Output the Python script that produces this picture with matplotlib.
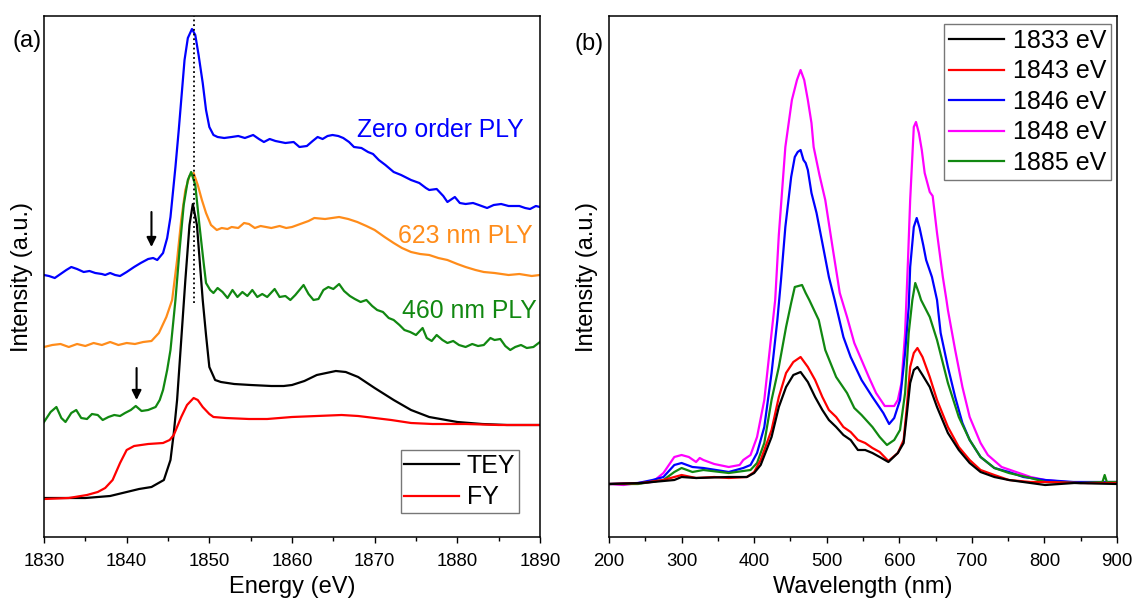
import matplotlib
matplotlib.use("Agg")
import matplotlib.pyplot as plt
from matplotlib.ticker import MultipleLocator

plt.rcParams['font.family'] = ['Liberation Sans', 'DejaVu Sans']

# ---------------- Panel (a): XANES-type spectra ----------------
tey_E = [1830, 1835, 1838, 1840, 1841.5, 1843, 1844.5, 1845.3, 1845.7, 1846.1, 1846.6, 1847.1, 1847.6, 1848.0,
         1848.5, 1849.2, 1849.6, 1850, 1850.7, 1851.4, 1853, 1855, 1857.5, 1859, 1860, 1861.5, 1863, 1865.3,
         1866.5, 1868, 1870, 1872.3, 1874.4, 1876.6, 1880, 1883, 1886, 1890]
tey_I = [39, 39, 41, 45, 48, 50, 57, 77, 104, 137, 197, 257, 312, 333,
         312, 237, 202, 170, 157, 155, 153, 152, 151, 151, 152, 156, 162, 166,
         165, 160, 149, 137, 127, 120, 115, 113, 112, 112]

fy_E = [1830, 1833, 1835.2, 1836.5, 1837.4, 1838.3, 1839.2, 1840, 1840.9, 1842.6, 1844.4, 1845.2, 1845.7,
        1846.6, 1847.3, 1848.1, 1848.6, 1849.2, 1850, 1850.5, 1852, 1854.8, 1857, 1860, 1863, 1866, 1868,
        1870, 1872, 1874.4, 1877, 1881, 1885, 1890]
fy_I = [38, 39, 42, 45, 49, 57, 74, 87, 91, 93, 94, 97, 102,
        120, 132, 139, 137, 130, 123, 120, 119, 118, 118, 120, 121, 122, 121,
        119, 117, 114, 113, 113, 112, 112]

ply460_E = [1830, 1830.8, 1831.5, 1832.1, 1832.6, 1833.3, 1833.9, 1834.5, 1835.2, 1835.8, 1836.5, 1837.1,
            1837.8, 1838.5, 1839.2, 1839.8, 1840.5, 1841.1, 1841.8, 1842.6, 1843.5, 1844.0, 1844.4, 1844.9,
            1845.3, 1845.9, 1846.4, 1846.9, 1847.4, 1847.8, 1848.3, 1848.8, 1849.3, 1849.6, 1850.1, 1850.5,
            1851, 1851.6, 1852.2, 1852.8, 1853.4, 1854, 1854.6, 1855.2, 1855.8, 1856.4, 1857, 1857.9, 1858.5,
            1859.2, 1859.8, 1860.4, 1861.4, 1862, 1862.6, 1863.2, 1863.8, 1864.4, 1865, 1865.7, 1866.3, 1867,
            1867.6, 1868.3, 1869, 1869.7, 1870.3, 1871, 1871.7, 1872.3, 1873, 1873.6, 1874.3, 1875, 1875.8,
            1876.3, 1876.9, 1877.5, 1878.2, 1878.8, 1879.5, 1880.2, 1881, 1881.8, 1882.5, 1883.2, 1884, 1884.5,
            1885.2, 1885.8, 1886.4, 1887, 1887.7, 1888.4, 1889.2, 1890]
ply460_I = [115, 125, 130, 119, 115, 124, 127, 119, 118, 123, 122, 117,
            120, 122, 121, 124, 127, 131, 126, 127, 130, 137, 147, 167,
            187, 237, 287, 332, 357, 365, 352, 312, 275, 254, 247, 244,
            249, 245, 239, 247, 240, 245, 241, 247, 240, 243, 240, 248, 240,
            241, 237, 242, 252, 243, 237, 238, 247, 250, 248, 253, 246, 241,
            238, 235, 237, 231, 227, 225, 219, 217, 212, 207, 205, 202, 209,
            199, 196, 202, 197, 194, 196, 192, 190, 193, 191, 192, 199, 197,
            198, 191, 187, 190, 192, 189, 190, 195]

ply623_E = [1830, 1831, 1832, 1833, 1834, 1835, 1836, 1837, 1838, 1839, 1840, 1841, 1842, 1843, 1843.9,
            1844.8, 1845.5, 1846.1, 1846.6, 1847.1, 1847.6, 1848.1, 1848.6, 1849.1, 1849.6, 1850.2, 1850.9,
            1851.5, 1852.2, 1852.7, 1853.5, 1854.2, 1854.8, 1855.5, 1856.2, 1857.5, 1858.5, 1859.3, 1860,
            1861, 1862, 1862.7, 1864, 1865.7, 1866.8, 1867.9, 1869, 1870, 1871.2, 1872.3, 1873.3, 1874.4,
            1875.5, 1876.6, 1877.7, 1878.8, 1880, 1881, 1882.2, 1883.2, 1884.5, 1886.2, 1887.5, 1889, 1890]
ply623_I = [190, 192, 193, 190, 193, 191, 194, 192, 195, 192, 194, 193, 195, 196, 204,
            220, 237, 277, 317, 347, 361, 364, 352, 337, 324, 312, 307,
            309, 308, 310, 309, 314, 313, 309, 311, 309, 311, 309, 310,
            313, 316, 319, 318, 320, 318, 315, 311, 307, 300, 294, 289, 285,
            283, 282, 279, 277, 273, 270, 267, 265, 264, 262, 263, 261, 262]

zero_E = [1830, 1830.6, 1831.3, 1832, 1832.7, 1833.3, 1834, 1834.8, 1835.5, 1836.2, 1837, 1837.4, 1838,
          1838.6, 1839.2, 1840, 1840.9, 1841.7, 1842.6, 1843.2, 1843.7, 1844.4, 1844.9, 1845.3, 1845.9,
          1846.3, 1846.6, 1847, 1847.4, 1847.9, 1848.3, 1848.7, 1849.2, 1849.6, 1850, 1850.5, 1851, 1851.8,
          1852.7, 1853.5, 1854.3, 1855.3, 1856, 1856.6, 1857.3, 1858, 1859.2, 1860.2, 1860.9, 1861.8, 1862.5,
          1863.1, 1863.7, 1864.3, 1864.9, 1865.6, 1866.2, 1866.9, 1867.5, 1868.4, 1869.2, 1869.8, 1870.5,
          1871.3, 1872.3, 1873.2, 1874.4, 1875.4, 1876.2, 1876.6, 1877.5, 1878.3, 1878.8, 1879.7, 1880.3,
          1881, 1881.9, 1882.6, 1883.6, 1884.4, 1885.3, 1886.2, 1887.5, 1888.2, 1888.8, 1889.5, 1890]
zero_I = [262, 261, 259, 263, 267, 270, 268, 265, 266, 264, 263, 262, 264,
          262, 261, 265, 270, 274, 278, 279, 277, 284, 299, 320, 370,
          407, 437, 477, 499, 508, 502, 482, 454, 427, 410, 402, 400, 399,
          400, 401, 399, 402, 398, 395, 398, 396, 394, 395, 390, 391, 396,
          400, 398, 401, 402, 401, 399, 395, 390, 389, 385, 383, 377,
          372, 365, 362, 357, 354, 349, 347, 348, 341, 335, 340, 334,
          333, 334, 332, 329, 332, 333, 331, 331, 329, 328, 331, 330]

# ---------------- Panel (b): PL spectra ----------------
wl_1848 = [200, 220, 240, 260, 275, 290, 300, 310, 320, 325, 330, 345, 365, 380, 385, 395, 404, 414, 424, 429,
           434, 443, 452, 459, 464, 469, 474, 479, 482, 490, 498, 508, 518, 528, 538, 548, 558, 568, 580, 593,
           598, 603, 608, 612, 615, 620, 623, 627, 631, 635, 642, 646, 652, 660, 665, 667, 677, 687, 697, 712,
           722, 741, 761, 781, 801, 830, 860, 900]
pl_1848 = [53, 52, 54, 55, 64, 80, 82, 80, 75, 79, 77, 73, 70, 72, 77, 82, 100, 137, 204, 237,
           302, 390, 437, 457, 467, 457, 437, 414, 390, 362, 337, 290, 244, 220, 194, 177, 160, 144, 131, 131,
           137, 154, 204, 277, 337, 410, 415, 404, 387, 364, 345, 341, 304, 260, 237, 227, 187, 150, 120, 94,
           82, 70, 65, 60, 57, 55, 54, 55]

wl_1846 = [200, 240, 260, 275, 290, 300, 315, 330, 365, 385, 395, 404, 414, 424, 432, 437, 443, 451, 456, 460,
           464, 468, 471, 474, 479, 486, 494, 503, 511, 523, 533, 548, 563, 578, 586, 593, 601, 608, 613, 615,
           620, 624, 628, 633, 637, 645, 652, 657, 667, 677, 687, 697, 712, 731, 751, 771, 801, 840, 900]
pl_1846 = [53, 54, 57, 60, 72, 74, 70, 69, 65, 69, 72, 84, 110, 164, 217, 257, 310, 360, 380, 385,
           387, 377, 374, 367, 344, 324, 294, 260, 237, 200, 180, 157, 140, 124, 113, 119, 137, 184, 230, 270,
           310, 319, 309, 292, 277, 260, 237, 204, 170, 140, 114, 97, 80, 69, 65, 60, 57, 55, 55]

wl_1885 = [200, 240, 275, 290, 300, 315, 330, 365, 395, 404, 414, 424, 434, 444, 451, 456, 461, 466, 471, 476,
           489, 498, 513, 528, 538, 548, 563, 573, 583, 593, 601, 608, 613, 618, 622, 627, 630, 642, 652, 667,
           682, 697, 712, 731, 751, 781, 801, 850, 880, 883, 886, 900]
pl_1885 = [53, 53, 57, 65, 69, 65, 67, 64, 67, 74, 94, 137, 170, 210, 234, 250, 251, 252, 244, 237,
           217, 187, 160, 144, 129, 122, 110, 100, 92, 97, 107, 144, 204, 237, 254, 244, 237, 220, 197, 154,
           120, 97, 80, 69, 64, 59, 55, 54, 55, 62, 55, 55]

wl_1843 = [200, 245, 275, 290, 300, 320, 345, 365, 390, 400, 409, 424, 434, 444, 454, 464, 474, 484, 494, 503,
           513, 523, 533, 543, 553, 563, 573, 585, 598, 606, 610, 615, 620, 625, 632, 642, 652, 667, 682, 697,
           712, 731, 751, 781, 801, 850, 900]
pl_1843 = [53, 54, 57, 60, 62, 59, 60, 59, 60, 65, 77, 107, 140, 164, 175, 180, 170, 157, 140, 127,
           120, 110, 105, 97, 94, 89, 85, 76, 84, 97, 127, 170, 184, 189, 180, 160, 137, 110, 90, 77,
           67, 62, 57, 55, 55, 54, 54]

wl_1833 = [200, 245, 290, 300, 320, 365, 390, 400, 409, 424, 434, 444, 454, 464, 474, 484, 494, 503, 513, 523,
           533, 543, 553, 563, 573, 585, 598, 606, 610, 615, 620, 625, 632, 642, 652, 667, 682, 697, 712, 731,
           751, 781, 801, 841, 900]
pl_1833 = [53, 54, 57, 60, 59, 60, 60, 64, 72, 100, 130, 150, 162, 165, 155, 140, 127, 117, 110, 102,
           97, 87, 87, 84, 80, 75, 84, 94, 120, 154, 167, 170, 162, 150, 130, 104, 87, 74, 65, 60,
           57, 54, 52, 54, 53]

pl_labels = ['1833 eV', '1843 eV', '1846 eV', '1848 eV', '1885 eV']
pl_colors = ['#000000', '#FF0000', '#0000FF', '#FF00FF', '#118811']

fig = plt.figure(figsize=(11.33, 6.05), dpi=100)
axa = fig.add_axes([44/1133, 68/605, 496/1133, 521/605])
axb = fig.add_axes([609/1133, 68/605, 508/1133, 521/605])

lw = 1.6
axa.plot(zero_E, zero_I, color='#0000FF', lw=lw)
axa.plot(ply623_E, ply623_I, color='#FF8C1A', lw=lw)
axa.plot(ply460_E, ply460_I, color='#118811', lw=lw)
la, = axa.plot(tey_E, tey_I, color='#000000', lw=lw, label='TEY')
lb, = axa.plot(fy_E, fy_I, color='#FF0000', lw=lw, label='FY')
axa.axvline(1848.1, ymin=0.449, ymax=1, color='k', ls=(0, (1, 1.6)), lw=1.3)

arrow_x = [1843.0, 1841.2]
arrow_from = [325, 169]
arrow_to = [290, 137]
for x, y0, y1 in zip(arrow_x, arrow_from, arrow_to):
    axa.annotate('', xy=(x, y1), xytext=(x, y0),
                 arrowprops=dict(arrowstyle='-|>', color='k', lw=1.5, mutation_scale=14,
                                 shrinkA=0, shrinkB=0))

lab_fs = 17.8
axa.text(1888.0, 400, 'Zero order PLY', color='#0000FF', fontsize=lab_fs, ha='right', va='baseline')
axa.text(1889.1, 294, '623 nm PLY', color='#FF8C1A', fontsize=lab_fs, ha='right', va='baseline')
axa.text(1889.6, 219, '460 nm PLY', color='#118811', fontsize=lab_fs, ha='right', va='baseline')

axa.set_xlim(1830, 1890)
axa.set_ylim(0, 521)
axa.xaxis.set_major_locator(MultipleLocator(10))
axa.xaxis.set_minor_locator(MultipleLocator(5))
axa.set_xlabel('Energy (eV)', fontsize=17, labelpad=4)
axa.set_ylabel('Intensity (a.u.)', fontsize=17, labelpad=8)
leg = axa.legend(handles=[la, lb], loc='lower right', bbox_to_anchor=(0.9577, 0.046), borderaxespad=0,
                 fontsize=18, frameon=True, fancybox=False, handlelength=2.2, handletextpad=0.3,
                 labelspacing=0.3, borderpad=0.15)
leg.get_frame().set_edgecolor('#555555')
leg.get_frame().set_linewidth(1.0)

order = [3, 2, 4, 1, 0]
series_b = list(zip([wl_1833, wl_1843, wl_1846, wl_1848, wl_1885],
                    [pl_1833, pl_1843, pl_1846, pl_1848, pl_1885], pl_labels, pl_colors))
handles = {}
for i in order:
    wl, pl, lab, c = series_b[i]
    h, = axb.plot(wl, pl, color=c, lw=lw, label=lab)
    handles[i] = h
axb.set_xlim(200, 900)
axb.set_ylim(0, 521)
axb.xaxis.set_major_locator(MultipleLocator(100))
axb.xaxis.set_minor_locator(MultipleLocator(50))
axb.set_xlabel('Wavelength (nm)', fontsize=17, labelpad=4)
axb.set_ylabel('Intensity (a.u.)', fontsize=17, labelpad=8)
legb = axb.legend(handles=[handles[i] for i in range(5)], loc='upper right', bbox_to_anchor=(0.988, 0.985),
                  borderaxespad=0, fontsize=18, frameon=True, fancybox=False, handlelength=2.2,
                  handletextpad=0.35, labelspacing=0.26, borderpad=0.2)
legb.get_frame().set_edgecolor('#555555')
legb.get_frame().set_linewidth(1.0)

for ax in (axa, axb):
    for s in ax.spines.values():
        s.set_linewidth(1.1)
    ax.tick_params(axis='y', left=False, labelleft=False)
    ax.tick_params(axis='x', which='major', direction='out', length=4.5, width=1.0, labelsize=13.4, pad=7)
    ax.tick_params(axis='x', which='minor', direction='out', length=3, width=1.0)

fig.text(12/1133, 1 - 41/605, '(a)', fontsize=17, ha='left', va='center')
fig.text(574/1133, 1 - 44/605, '(b)', fontsize=17, ha='left', va='center')

fig.savefig('out.png', dpi=100)
